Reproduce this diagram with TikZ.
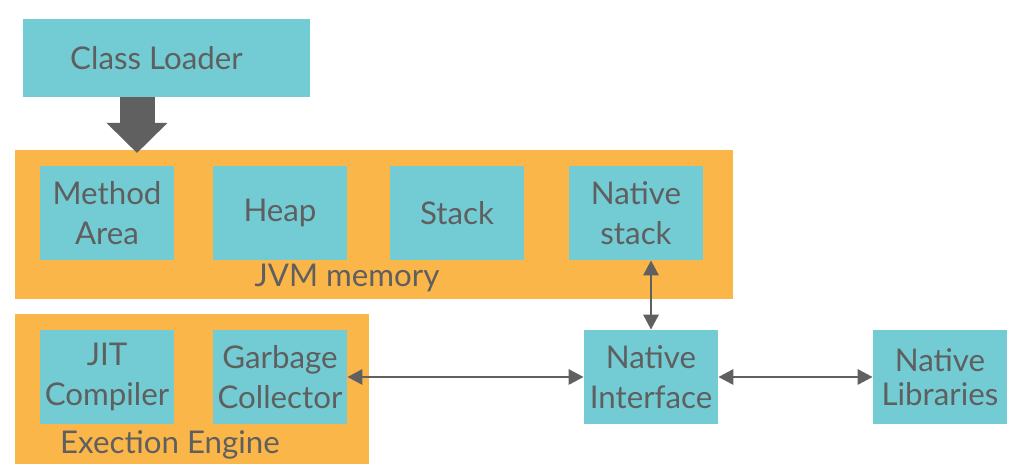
\documentclass[tikz,border=0pt]{standalone}
\usepackage{fontspec}
\setmainfont{Lato}
\usepackage{tikz}
\usetikzlibrary{arrows.meta,positioning}
\definecolor{tealbox}{HTML}{73CCD4}
\definecolor{orgbox}{HTML}{FBB64A}
\definecolor{txtgray}{HTML}{5F5F5F}
\definecolor{argray}{HTML}{606060}
\tikzset{
  blk/.style={rectangle, fill=tealbox, minimum width=26.8mm, minimum height=18.8mm,
              align=center, text=txtgray, font=\fontsize{17.8}{22.7}\selectfont, inner sep=0pt},
  grp/.style={rectangle, fill=orgbox, inner sep=0pt},
  lbl/.style={text=txtgray, font=\fontsize{17.8}{22.7}\selectfont, inner sep=0pt},
  ar/.style={{Triangle[length=3mm,width=3mm]}-{Triangle[length=3mm,width=3mm]}, line width=1.7pt, draw=argray},
  bigar/.style={-{Triangle[length=6mm,width=11.8mm]}, line width=7mm, draw=argray},
}
\begin{document}
\begin{tikzpicture}
\useasboundingbox (0,0) rectangle (20.48,-9.48);
% memory and engine groups
\node[grp, minimum width=143.6mm, minimum height=29.8mm] (jvm) at (7.48,-4.49) {};
\node[grp, minimum width=70.8mm, minimum height=30mm] (eng) at (3.84,-7.78) {};
\node[blk, minimum width=57.4mm, minimum height=15.6mm] (loader) at (3.33,-1.16) {Class Loader\hspace{4mm}};
\node[blk] (meth) at (2.14,-4.26) {Method\\Area};
\node[blk] (heap) at (5.60,-4.26) {Heap};
\node[blk] (stack) at (9.14,-4.26) {Stack};
\node[blk] (nstack) at (12.72,-4.26) {Native\\stack};
\node[lbl] (jvmlbl) at (6.94,-5.56) {JVM memory};
\node[blk] (jit) at (2.14,-7.54) {JIT\\Compiler};
\node[blk] (gc) at (5.60,-7.54) {Garbage\\Collector};
\node[lbl] (englbl) at (3.40,-8.90) {Exection Engine};
\node[blk] (nif) at (13.02,-7.54) {Native\\Interface};
\node[blk] (nlib) at (18.80,-7.54) {\raisebox{-3mm}{\shortstack{Native\\[1mm]Libraries}}};
% connectors
\coordinate (load) at (2.74,-3.06);
\draw[bigar] (loader.south -| load) -- (load);
\draw[ar] (nstack.south -| nif.north) -- (nif.north);
\draw[ar] (gc) -- (nif);
\draw[ar] (nif) -- (nlib);
\end{tikzpicture}
\end{document}
